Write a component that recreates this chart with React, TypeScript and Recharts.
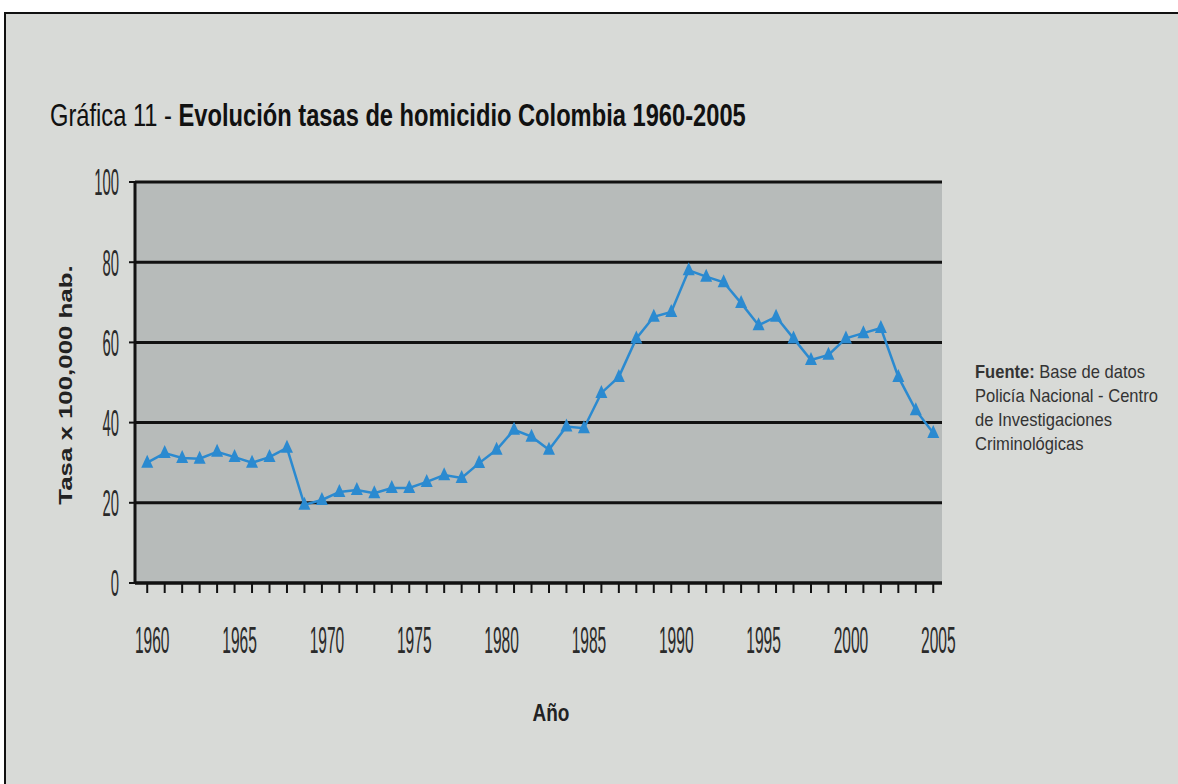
import React from "react";
import {
  LineChart,
  Line,
  XAxis,
  YAxis,
  CartesianGrid,
} from "recharts";

// Año 1960-2005
const years = [
  1960, 1961, 1962, 1963, 1964, 1965, 1966, 1967, 1968, 1969,
  1970, 1971, 1972, 1973, 1974, 1975, 1976, 1977, 1978, 1979,
  1980, 1981, 1982, 1983, 1984, 1985, 1986, 1987, 1988, 1989,
  1990, 1991, 1992, 1993, 1994, 1995, 1996, 1997, 1998, 1999,
  2000, 2001, 2002, 2003, 2004, 2005,
];

// tasa x 100,000 hab.
const rates = [
  30, 32.4, 31.2, 31, 32.7, 31.4, 30, 31.4, 33.7, 19.5,
  20.7, 22.7, 23.2, 22.4, 23.7, 23.7, 25.2, 26.9, 26.2, 29.9,
  33.2, 38.2, 36.5, 33.2, 39, 38.6, 47.4, 51.4, 61, 66.4,
  67.6, 78, 76.4, 75, 69.8, 64.3, 66.4, 61, 55.6, 56.9,
  61, 62.3, 63.6, 51.4, 43.1, 37.4,
];

const yTicks = [0, 20, 40, 60, 80, 100];

const data = years.map((year, i) => ({ year, rate: rates[i] }));

const sans = "'Liberation Sans', Arial, sans-serif";
const blue = "#2b8ad0";

function TriangleDot(props: any) {
  const { cx, cy } = props;
  if (cx == null || cy == null) return null;
  return (
    <path
      d={`M${cx},${cy - 8} L${cx + 6},${cy + 5} L${cx - 6},${cy + 5} Z`}
      fill={blue}
    />
  );
}

// condensed tall digits like the scanned chart
function XTick(props: any) {
  const { x, y, payload } = props;
  const v = payload.value as number;
  if (v % 5 !== 0) return null;
  return (
    <g transform={`translate(${x + 5},${y + 60}) scale(0.42,1)`}>
      <text textAnchor="middle" fontSize={37} fontFamily={sans} fill="#2a2a2a">
        {v}
      </text>
    </g>
  );
}

function YTick(props: any) {
  const { x, y, payload } = props;
  return (
    <g transform={`translate(${x},${y}) scale(0.4,1)`}>
      <text textAnchor="end" dy="0.36em" fontSize={37} fontFamily={sans} fill="#2a2a2a">
        {payload.value}
      </text>
    </g>
  );
}

export default function App() {
  return (
    <div
      style={{
        position: "absolute",
        left: 0,
        top: 0,
        width: 1178,
        height: 784,
        background: "#ffffff",
        overflow: "hidden",
      }}
    >
      <div
        style={{
          position: "absolute",
          left: 4,
          top: 12,
          width: 1174,
          height: 772,
          background: "#d8dad7",
          borderTop: "2px solid #111",
          borderLeft: "2px solid #111",
        }}
      />

      <div style={{ position: "absolute", left: 0, top: 0 }}>
        <LineChart
          width={1178}
          height={784}
          data={data}
          margin={{ top: 182, right: 236, bottom: 81, left: 0 }}
        >
          <CartesianGrid
            vertical={false}
            fill="#b7bbba"
            stroke="#111"
            strokeWidth={3}
            horizontalValues={yTicks}
          />
          <XAxis
            dataKey="year"
            type="number"
            domain={[1959.3, 2005.5]}
            ticks={years}
            interval={0}
            height={120}
            tickSize={10}
            tickMargin={0}
            axisLine={{ stroke: "#111", strokeWidth: 3 }}
            tickLine={{ stroke: "#111", strokeWidth: 2 }}
            tick={<XTick />}
          />
          <YAxis
            type="number"
            domain={[0, 100]}
            ticks={yTicks}
            interval={0}
            width={135}
            tickSize={6}
            tickMargin={10}
            axisLine={{ stroke: "#111", strokeWidth: 3 }}
            tickLine={{ stroke: "#111", strokeWidth: 2 }}
            tick={<YTick />}
          />
          <Line
            type="linear"
            dataKey="rate"
            stroke={blue}
            strokeWidth={2.5}
            dot={<TriangleDot />}
            activeDot={false}
            isAnimationActive={false}
          />
        </LineChart>
      </div>

      <div
        style={{
          position: "absolute",
          left: 50,
          top: 99,
          fontFamily: sans,
          fontSize: 32,
          lineHeight: "32px",
          color: "#111",
          whiteSpace: "nowrap",
          transform: "scaleX(0.74)",
          transformOrigin: "left top",
        }}
      >
        Gráfica 11 - <b>Evolución tasas de homicidio Colombia 1960-2005</b>
      </div>

      <div
        style={{
          position: "absolute",
          left: 66,
          top: 385,
          transform: "translate(-50%, -50%) rotate(-90deg) scaleX(1.36)",
          fontFamily: sans,
          fontWeight: "bold",
          fontSize: 19,
          color: "#222",
          whiteSpace: "nowrap",
        }}
      >
        Tasa x 100,000 hab.
      </div>

      <div
        style={{
          position: "absolute",
          left: 551,
          top: 713,
          transform: "translate(-50%, -50%) scaleY(1.3)",
          fontFamily: sans,
          fontWeight: "bold",
          fontSize: 19,
          color: "#222",
        }}
      >
        Año
      </div>

      <div
        style={{
          position: "absolute",
          left: 975,
          top: 360,
          fontFamily: sans,
          fontSize: 19,
          lineHeight: "24px",
          color: "#333",
          whiteSpace: "nowrap",
          transform: "scaleX(0.87)",
          transformOrigin: "left top",
        }}
      >
        <b>Fuente:</b> Base de datos
        <br />
        Policía Nacional - Centro
        <br />
        de Investigaciones
        <br />
        Criminológicas
      </div>
    </div>
  );
}
